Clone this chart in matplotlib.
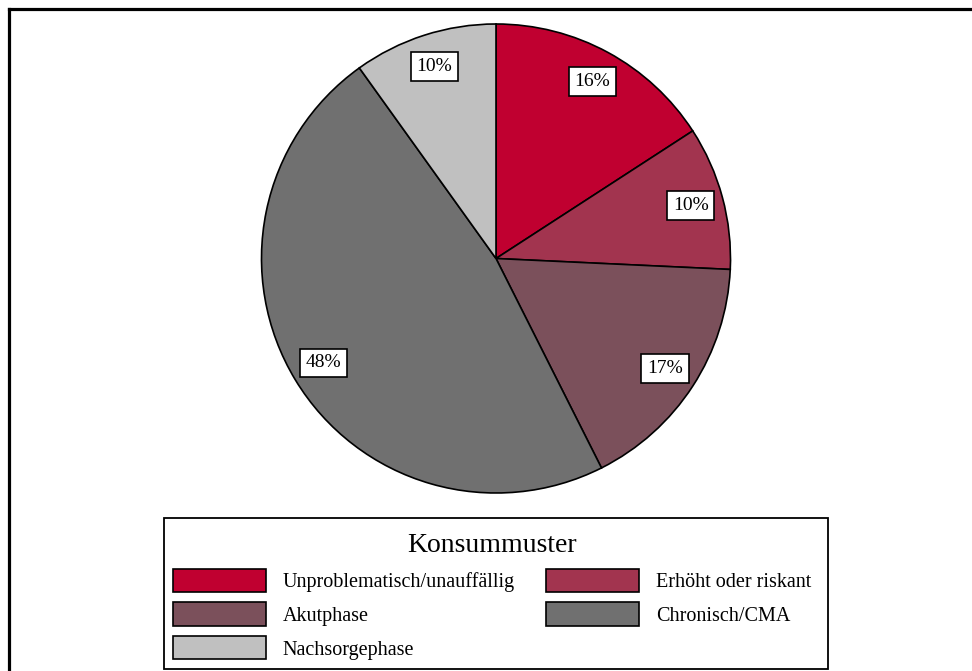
import matplotlib.pyplot as plt
from matplotlib.lines import Line2D
from matplotlib.patches import Rectangle

plt.rcParams['font.family'] = ['Liberation Serif', 'DejaVu Serif']

labels = ["Unproblematisch/unauffällig", "Erhöht oder riskant", "Akutphase",
          "Chronisch/CMA", "Nachsorgephase"]
shares = [16, 10, 17, 48, 10]
colors = ["#C00030", "#A2344F", "#7B505B", "#707070", "#C0C0C0"]

W, H = 972, 671
fig = plt.figure(figsize=(W / 100, H / 100), dpi=100)

# outer frame (only top and left edges visible)
fig.add_artist(Line2D([9 / W, 9 / W], [0, 1 - 9 / H], transform=fig.transFigure,
                      color="black", lw=2.3))
fig.add_artist(Line2D([9 / W, 1], [1 - 9 / H, 1 - 9 / H], transform=fig.transFigure,
                      color="black", lw=2.3))

ax = fig.add_axes([261.5 / W, 178 / H, 469 / W, 469 / H])
wedges, texts = ax.pie(shares, colors=colors, startangle=90, counterclock=False,
                       labels=[f"{s}%" for s in shares], labeldistance=0.86,
                       wedgeprops=dict(edgecolor="black", linewidth=1.2))
for t in texts:
    t.set_ha("center")
    t.set_va("center")
    t.set_fontsize(14)
    t.set_bbox(dict(boxstyle="square,pad=0.3", facecolor="white", edgecolor="black", lw=1.2))
ax.set_xlim(-1, 1)
ax.set_ylim(-1, 1)
ax.set_aspect("equal")

# legend box
fig.add_artist(Rectangle((164 / W, 1 - 669 / H), 664 / W, 151 / H, transform=fig.transFigure,
                         facecolor="white", edgecolor="black", lw=1.3, zorder=1))

# column-major order so the legend reads row by row
order = [0, 2, 4, 1, 3]
leg = fig.legend([wedges[i] for i in order], [labels[i] for i in order],
                 title="Konsummuster", ncol=2, loc="upper center",
                 bbox_to_anchor=(492 / W, 1 - 513 / H),
                 fontsize=14.5, title_fontsize=20, frameon=False,
                 handlelength=4.6, handleheight=1.4,
                 handletextpad=0.85, columnspacing=1.55, labelspacing=0.52,
                 borderpad=0.5)
leg.set_zorder(2)

fig.savefig("out.png", dpi=100)
